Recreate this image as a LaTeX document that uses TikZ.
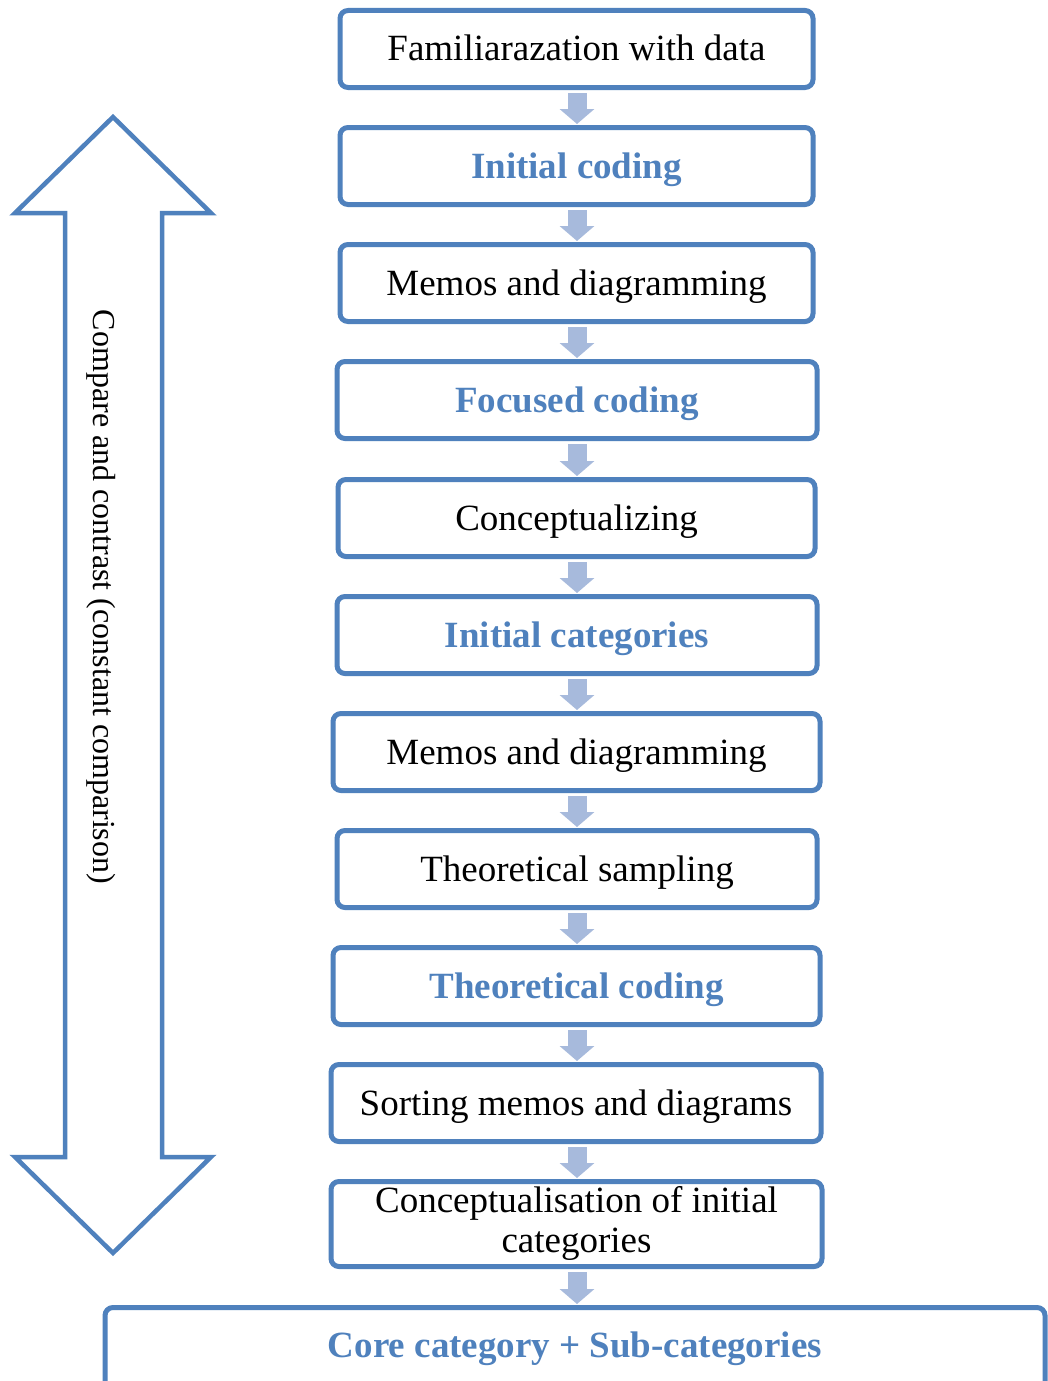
\documentclass[tikz,border=0pt]{standalone}
\usepackage{fontspec}
\setmainfont{Liberation Serif}
\usetikzlibrary{arrows.meta}
\definecolor{framblue}{HTML}{4F81BD}
\definecolor{stepblue}{HTML}{A7BADC}
\begin{document}
\begin{tikzpicture}[x=1pt,y=-1pt,
  stepbox/.style={draw=framblue,line width=5pt,rounded corners=8pt,fill=white,
    inner sep=0pt,minimum height=77pt,text height=30pt,text depth=6pt,
    font=\fontsize{37}{40}\selectfont,align=center},
  keybox/.style={stepbox,text=framblue,font=\fontsize{37}{40}\selectfont\bfseries},
  flow/.style={draw=stepblue,line width=19pt,
    -{Triangle[width=34pt,length=15pt]},shorten <=3pt,shorten >=1pt}]
\useasboundingbox (0,0) rectangle (1047,1381);
\fill[white] (0,0) rectangle (1047,1381);

% process steps
\node[stepbox,minimum width=473pt] (b1) at (576.5,49) {Familiarazation with data};
\node[keybox,minimum width=473pt] (b2) at (576.5,166) {Initial coding};
\node[stepbox,minimum width=473pt] (b3) at (576.5,283) {Memos and diagramming};
\node[keybox,minimum width=480pt] (b4) at (577,400) {Focused coding};
\node[stepbox,minimum width=477pt] (b5) at (576.5,518) {Conceptualizing};
\node[keybox,minimum width=480pt] (b6) at (577,635) {Initial categories};
\node[stepbox,minimum width=487pt] (b7) at (576.5,752) {Memos and diagramming};
\node[stepbox,minimum width=480pt] (b8) at (577,869) {Theoretical sampling};
\node[keybox,minimum width=487pt] (b9) at (576.5,986) {Theoretical coding};
\node[stepbox,minimum width=490pt] (b10) at (576,1103) {Sorting memos and diagrams};
\node[stepbox,minimum width=491pt,minimum height=85pt,text height=62pt,text depth=6pt,
  font=\fontsize{37}{39.5}\selectfont] (b11) at (576.5,1224)
  {Conceptualisation of initial\\categories};
\node[keybox,anchor=north,minimum width=940pt,text height=30pt,text depth=50pt,
  inner ysep=20pt] (b12) at (575,1305) {Core category + Sub-categories};

% step arrows
\foreach \a/\b in {b1/b2,b2/b3,b3/b4,b4/b5,b5/b6,b6/b7,b7/b8,b8/b9,b9/b10,b10/b11,b11/b12}
  \draw[flow] (\a.south -| 577,0) -- (\b.north -| 577,0);

% two-headed comparison arrow
\draw[framblue,line width=4.5pt,line join=miter]
  (113,117) -- (211,213) -- (162,213) -- (162,1157) -- (211,1157)
  -- (113,1253) -- (15,1157) -- (65,1157) -- (65,213) -- (15,213) -- cycle;
\node[rotate=-90,font=\fontsize{32}{36}\selectfont] (cmp) at (101,597)
  {Compare and contrast (constant comparison)};
\end{tikzpicture}
\end{document}
